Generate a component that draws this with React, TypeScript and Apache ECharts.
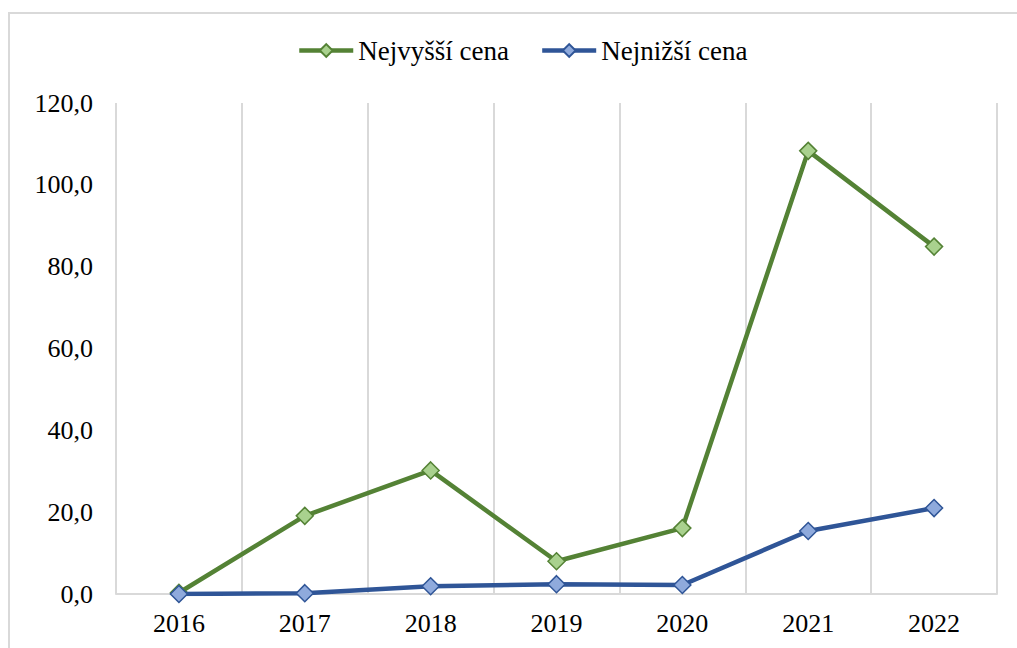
import React, { useEffect, useRef } from "react";
import * as echarts from "echarts";

const categories = ["2016", "2017", "2018", "2019", "2020", "2021", "2022"];
const highest = [0.3, 19.1, 30.2, 8.0, 16.1, 108.3, 84.9];
const lowest = [0.0, 0.2, 1.9, 2.4, 2.2, 15.4, 21.0];
const yMin = 0;
const yMax = 120;
const yInterval = 20;

const font = "Liberation Serif, serif";

export default function App() {
  const ref = useRef<HTMLDivElement>(null);
  useEffect(() => {
    if (!ref.current) return;
    const chart = echarts.init(ref.current, null, { renderer: "svg" });
    chart.setOption({
      animation: false,
      backgroundColor: "#ffffff",
      textStyle: { fontFamily: font },
      graphic: [
        {
          type: "rect",
          shape: { x: 9, y: 13, width: 1030, height: 700 },
          style: { fill: "none", stroke: "#d9d9d9", lineWidth: 2 },
          silent: true,
          z: -1,
        },
      ],
      legend: {
        top: 32,
        left: 292,
        itemWidth: 54,
        itemHeight: 16,
        itemGap: 31,
        lineStyle: { width: 4.5 },
        textStyle: { fontFamily: font, fontSize: 27, color: "#000" },
        data: ["Nejvyšší cena", "Nejnižší cena"],
      },
      grid: { left: 116, right: 20, top: 103, bottom: 54, containLabel: false },
      xAxis: {
        type: "category",
        data: categories,
        boundaryGap: true,
        axisLine: { show: true, lineStyle: { color: "#d9d9d9", width: 2 } },
        axisTick: { show: false },
        splitLine: { show: true, lineStyle: { color: "#d9d9d9", width: 2 } },
        axisLabel: { fontFamily: font, fontSize: 26, color: "#000", margin: 16 },
      },
      yAxis: {
        type: "value",
        min: yMin,
        max: yMax,
        interval: yInterval,
        axisLine: { show: false },
        axisTick: { show: false },
        splitLine: { show: false },
        axisLabel: {
          fontFamily: font,
          fontSize: 26,
          color: "#000",
          margin: 23,
          formatter: (v: number) => v.toFixed(1).replace(".", ","),
        },
      },
      series: [
        {
          name: "Nejvyšší cena",
          type: "line",
          data: highest,
          symbol: "diamond",
          symbolSize: 17,
          showAllSymbol: true,
          lineStyle: { color: "#548235", width: 4.5 },
          itemStyle: { color: "#A9D18E", borderColor: "#548235", borderWidth: 1.5 },
          z: 3,
        },
        {
          name: "Nejnižší cena",
          type: "line",
          data: lowest,
          symbol: "diamond",
          symbolSize: 17,
          showAllSymbol: true,
          lineStyle: { color: "#2F5597", width: 4.5 },
          itemStyle: { color: "#8FAADC", borderColor: "#2F5597", borderWidth: 1.5 },
          z: 4,
        },
      ],
    });
    return () => chart.dispose();
  }, []);
  return (
    <div
      ref={ref}
      style={{ position: "fixed", left: 0, top: 0, width: 1017, height: 648 }}
    />
  );
}
